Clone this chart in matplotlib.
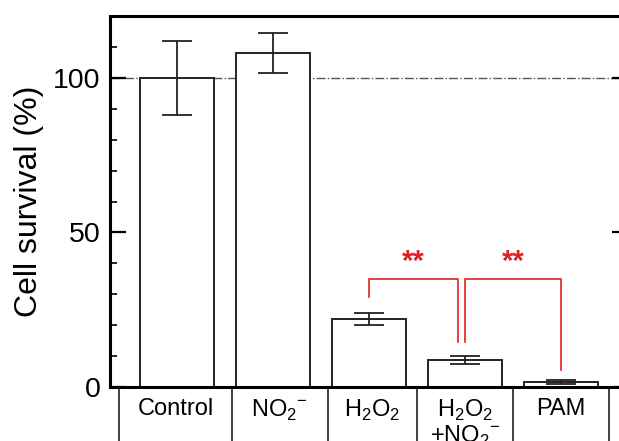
import numpy as np
import matplotlib.pyplot as plt

plt.rcParams['font.family'] = ['Liberation Sans', 'DejaVu Sans']
plt.rcParams['mathtext.fontset'] = 'custom'
plt.rcParams['mathtext.rm'] = 'Liberation Sans'

# data
groups = ['Control', r'NO$_2{}^{-}$', r'H$_2$O$_2$', 'H$_2$O$_2$\n+NO$_2{}^{-}$', 'PAM']
survival = [100, 108, 22, 8.7, 1.6]
err = [12, 6.5, 2.0, 1.4, 0.6]

# significance brackets: (x left, x right, y left end, y right end)
brackets = [(2.0, 2.93, 29, 14.6), (3.0, 4.0, 14.6, 5.5)]
bracket_top = 35
sig_label = '**'

# cell dividers of the label row underneath the axis
dividers = [-0.6, 0.57, 1.57, 2.5, 3.5, 4.5]

x = np.arange(len(survival))

fig = plt.figure(figsize=(6.19, 4.41), dpi=100)
ax = fig.add_axes([0.1777, 0.1224, 0.8368, 0.8413])

ax.axhline(100, color='#555555', lw=1.0, ls='-.', zorder=0)
ax.bar(x, survival, width=0.77, color='white', edgecolor='#222222', lw=1.4, zorder=2)
ax.errorbar(x, survival, yerr=err, fmt='none', ecolor='#222222', elinewidth=1.3,
            capsize=11, capthick=1.3, zorder=3)

red = '#e02020'
for xl, xr, yl, yr in brackets:
    ax.plot([xl, xl, xr, xr], [yl, bracket_top, bracket_top, yr], color=red, lw=1.2)
    ax.text((xl + xr) / 2, bracket_top + 0.8, sig_label, color=red, fontsize=21,
            fontweight='bold', ha='center', va='bottom')

ax.set_xlim(-0.698, 4.698)
ax.set_ylim(0, 120)
ax.set_yticks([0, 50, 100])
ax.set_yticks(np.arange(0, 120, 10), minor=True)
ax.tick_params(axis='y', which='major', direction='in', length=11.5, width=1.6,
               labelsize=20.5, pad=7, right=True)
ax.tick_params(axis='y', which='minor', direction='in', length=5, width=1.2, right=True)

# label row underneath
centers = [(a + b) / 2 for a, b in zip(dividers[:-1], dividers[1:])]
ax.set_xticks(centers)
ax.set_xticklabels(groups, fontsize=17, linespacing=1.0)
ax.tick_params(axis='x', length=0, pad=8)
ax.vlines(dividers, -0.2, 0, transform=ax.get_xaxis_transform(), color='#222222',
          lw=1.2, clip_on=False)

for s in ax.spines.values():
    s.set_linewidth(2.2)

ax.set_ylabel('Cell survival (%)', fontsize=23, labelpad=6)

plt.savefig('out.png', dpi=100)
plt.close()
